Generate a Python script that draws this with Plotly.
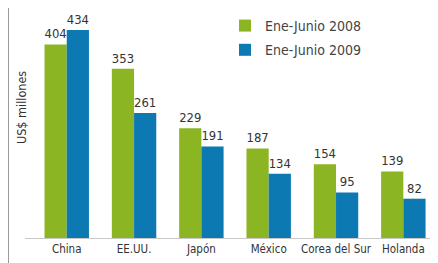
import plotly.graph_objects as go

categories = ["China", "EE.UU.", "Japón", "México", "Corea del Sur", "Holanda"]
values_2008 = [404, 353, 229, 187, 154, 139]
values_2009 = [434, 261, 191, 134, 95, 82]
series_names = ["Ene-Junio 2008", "Ene-Junio 2009"]

FONT = "DejaVu Sans Condensed, Liberation Sans, sans-serif"
GREEN = "#8cb524"
BLUE = "#0c79b3"

# page body has an 8px margin: figure coordinates = reference pixels - 8
W, H = 430, 255
ml, mr, mt, mb = 17, 1, 0, 25
PW, PH = W - ml - mr, H - mt - mb


def px(x):
    return (x - 8 - ml) / PW


def py(y):
    return 1 - (y - 8 - mt) / PH


fig = go.Figure()
fig.add_trace(go.Bar(
    x=categories, y=values_2008, name=series_names[0], legendgroup="a",
    marker=dict(color=GREEN, line=dict(width=0)),
    text=values_2008, textposition="outside", cliponaxis=False,
    textfont=dict(family=FONT, size=13, color="#333333"),
))
fig.add_trace(go.Bar(
    x=categories, y=values_2009, name=series_names[1], legendgroup="b",
    marker=dict(color=BLUE, line=dict(width=0)),
    text=values_2009, textposition="outside", cliponaxis=False,
    textfont=dict(family=FONT, size=13, color="#333333"),
))

fig.update_layout(
    width=W, height=H,
    margin=dict(l=ml, r=mr, t=mt, b=mb, autoexpand=False),
    paper_bgcolor="white", plot_bgcolor="white",
    barmode="group", bargap=0.34, bargroupgap=0,
    font=dict(family=FONT, size=12, color="#333333"),
    showlegend=True,
    legend=dict(x=px(225), y=py(10),
                xanchor="left", yanchor="top", xref="paper", yref="paper",
                font=dict(family=FONT, size=14, color="#444444"),
                bgcolor="rgba(0,0,0,0)", tracegroupgap=3),
    xaxis=dict(range=[-0.62, 5.5], showgrid=False, zeroline=False, automargin=False,
               showline=True, linecolor="#c8c8c8", linewidth=1,
               ticks="", tickfont=dict(family=FONT, size=11.5, color="#333333")),
    yaxis=dict(range=[0, 480], showgrid=False, zeroline=False, automargin=False,
               showline=False, showticklabels=False, ticks=""),
)

# left frame line
fig.add_shape(type="line", xref="paper", yref="paper",
              x0=(0.5 - ml) / PW, x1=(0.5 - ml) / PW,
              y0=-mb / PH, y1=1 + mt / PH,
              line=dict(color="#9a9a9a", width=1))

# y-axis title
fig.add_annotation(text="US$ millones", textangle=-90, showarrow=False,
                   xref="paper", yref="paper",
                   x=px(22), y=py(108),
                   xanchor="center", yanchor="middle",
                   font=dict(family=FONT, size=12.5, color="#333333"))

fig.write_html("out.html")
